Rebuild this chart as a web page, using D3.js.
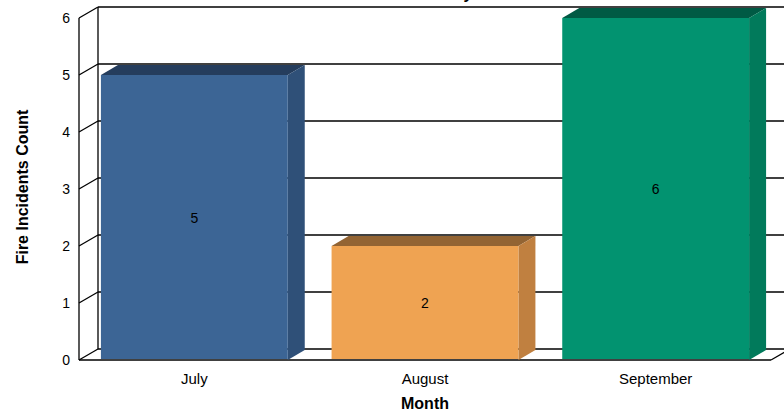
<!DOCTYPE html>
<html>
<head>
<meta charset="utf-8">
<script src="https://cdn.jsdelivr.net/npm/d3@7"></script>
<style>
  body { margin: 0; background: #fff; }
  svg { display: block; font-family: "Liberation Sans", Arial, sans-serif; }
</style>
</head>
<body>
<div id="chart"></div>
<script>
var categories = ["July", "August", "September"];
var values = [5, 2, 6];
var yTicks = [0, 1, 2, 3, 4, 5, 6];
var frontColors = ["#3c6595", "#efa352", "#029370"];
var topColors = ["#253d5d", "#936433", "#005a44"];
var sideColors = ["#2f5078", "#c08040", "#017a5b"];

function BarChart() {
  var w = 784, h = 415;
  // wall depth and bar depth offsets
  var dx = 19, dy = -11;
  var bdx = 17, bdy = -10;

  var svg = d3.select("#chart")
    .append("svg")
    .attr("width", w)
    .attr("height", h);

  var xScale = d3.scaleBand()
    .domain(categories)
    .range([79, 771])
    .paddingInner(0.19)
    .paddingOuter(0.095);

  var yScale = d3.scaleLinear()
    .domain([0, 6])
    .range([360, 18]);

  var x0 = 79, x1 = 771;

  // title (mostly above the visible area, as in the original)
  svg.append("text")
    .attr("x", 435)
    .attr("y", -1)
    .attr("text-anchor", "middle")
    .style("font-weight", "bold")
    .style("font-size", "16px")
    .text("Fire Incidents by Month");

  var grid = svg.append("g")
    .attr("stroke", "#000")
    .attr("stroke-width", 1.3)
    .attr("fill", "none");

  //back wall gridlines
  grid.selectAll("line.back")
    .data(yTicks)
    .enter()
    .append("line")
    .attr("x1", x0 + dx)
    .attr("x2", x1 + dx + 20)
    .attr("y1", (d) => yScale(d) + dy)
    .attr("y2", (d) => yScale(d) + dy);

  //left wall diagonals
  grid.selectAll("line.side")
    .data(yTicks)
    .enter()
    .append("line")
    .attr("x1", x0)
    .attr("x2", x0 + dx)
    .attr("y1", (d) => yScale(d))
    .attr("y2", (d) => yScale(d) + dy);

  // left wall verticals
  grid.append("line")
    .attr("x1", x0).attr("x2", x0)
    .attr("y1", yScale(0)).attr("y2", yScale(6));
  grid.append("line")
    .attr("x1", x0 + dx).attr("x2", x0 + dx)
    .attr("y1", yScale(0) + dy).attr("y2", yScale(6) + dy);

  // floor
  grid.append("line")
    .attr("x1", x0).attr("x2", x1)
    .attr("y1", yScale(0)).attr("y2", yScale(0));
  grid.append("line")
    .attr("x1", x1).attr("x2", x1 + dx)
    .attr("y1", yScale(0)).attr("y2", yScale(0) + dy);

  //Draw bars
  var bars = svg.selectAll("g.bar")
    .data(values)
    .enter()
    .append("g")
    .attr("class", "bar");

  bars.append("polygon")
    .attr("fill", (d, i) => topColors[i])
    .attr("points", function (d, i) {
      var l = xScale(categories[i]), r = l + xScale.bandwidth(), t = yScale(d);
      return [[l, t], [l + bdx, t + bdy], [r + bdx, t + bdy], [r, t]].join(" ");
    });

  bars.append("polygon")
    .attr("fill", (d, i) => sideColors[i])
    .attr("points", function (d, i) {
      var r = xScale(categories[i]) + xScale.bandwidth(), t = yScale(d), b = yScale(0);
      return [[r, t], [r + bdx, t + bdy], [r + bdx, b + bdy], [r, b]].join(" ");
    });

  bars.append("rect")
    .attr("x", (d, i) => xScale(categories[i]))
    .attr("y", (d) => yScale(d))
    .attr("width", xScale.bandwidth())
    .attr("height", (d) => yScale(0) - yScale(d) - 1)
    .attr("fill", (d, i) => frontColors[i]);

  // value labels
  bars.append("text")
    .attr("x", (d, i) => xScale(categories[i]) + xScale.bandwidth() / 2)
    .attr("y", (d) => (yScale(d) + yScale(0)) / 2 + 5)
    .attr("text-anchor", "middle")
    .style("font-size", "14px")
    .text((d) => d);

  // y tick labels
  svg.selectAll("text.ytick")
    .data(yTicks)
    .enter()
    .append("text")
    .attr("class", "ytick")
    .attr("x", 70)
    .attr("y", (d) => yScale(d) + 5)
    .attr("text-anchor", "end")
    .style("font-size", "14px")
    .text((d) => d);

  // x tick labels
  svg.selectAll("text.xtick")
    .data(categories)
    .enter()
    .append("text")
    .attr("class", "xtick")
    .attr("x", (d) => xScale(d) + xScale.bandwidth() / 2)
    .attr("y", 384)
    .attr("text-anchor", "middle")
    .style("font-size", "15px")
    .text((d) => d);

  // axis titles
  svg.append("text")
    .attr("x", 425)
    .attr("y", 409)
    .attr("text-anchor", "middle")
    .style("font-weight", "bold")
    .style("font-size", "16px")
    .text("Month");

  svg.append("text")
    .attr("text-anchor", "middle")
    .attr("transform", "translate(28,187) rotate(-90)")
    .style("font-weight", "bold")
    .style("font-size", "16px")
    .text("Fire Incidents Count");
}

window.onload = function () {
  BarChart();
};
</script>
</body>
</html>
